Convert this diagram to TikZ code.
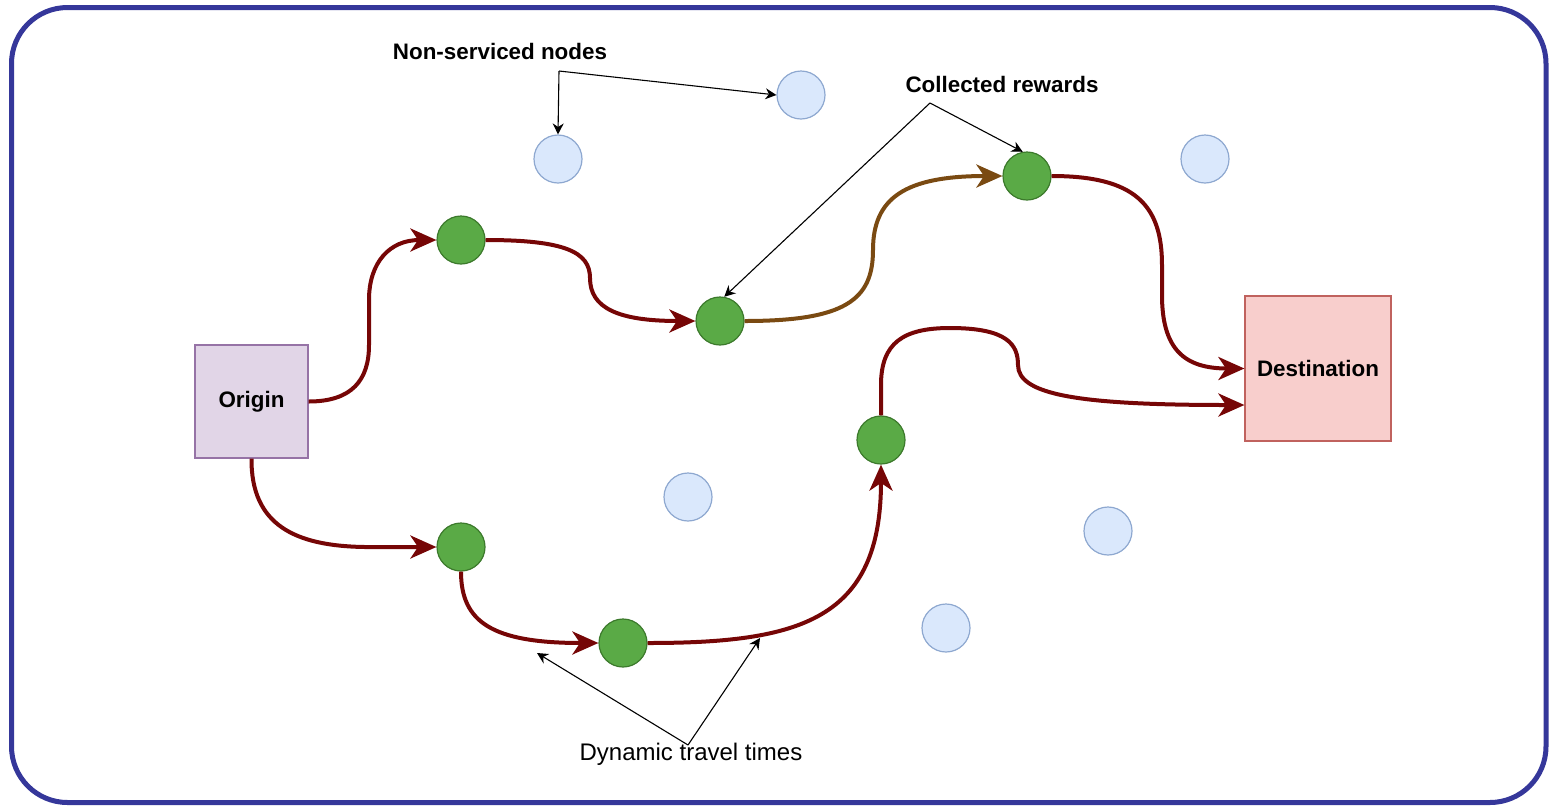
\documentclass[tikz,border=0pt]{standalone}
\usepackage{fontspec}
\setmainfont{Liberation Sans}
\usetikzlibrary{arrows.meta}
\definecolor{frameblue}{HTML}{35379A}
\definecolor{routered}{HTML}{760606}
\definecolor{routebrown}{HTML}{7A4A12}
\definecolor{greenfill}{HTML}{5AAA46}
\definecolor{greenline}{HTML}{3C7A2C}
\definecolor{bluefill}{HTML}{DAE8FC}
\definecolor{blueline}{HTML}{8EA8D0}
\definecolor{originfill}{HTML}{E1D5E7}
\definecolor{originline}{HTML}{9673A6}
\definecolor{destfill}{HTML}{F8CECC}
\definecolor{destline}{HTML}{C0625E}
\begin{document}
\begin{tikzpicture}[x=0.5pt,y=-0.5pt,
  visited/.style={circle, fill=greenfill, draw=greenline, line width=0.6pt, minimum size=24pt, inner sep=0pt},
  unvisited/.style={circle, fill=bluefill, draw=blueline, line width=0.6pt, minimum size=24pt, inner sep=0pt},
  boxnode/.style={rectangle, line width=0.6pt, inner sep=0pt, font=\fontsize{11.2}{13}\selectfont\bfseries},
  route/.style={draw=routered, line width=2pt, -{Stealth[length=13pt, width=11.5pt, inset=3.8pt]}},
  brownroute/.style={route, draw=routebrown},
  note/.style={draw=black, line width=0.55pt, -{Stealth[length=5.5pt, width=5.5pt]}},
  boldlabel/.style={font=\fontsize{11.2}{13}\selectfont\bfseries, inner sep=0pt},
  plainlabel/.style={font=\fontsize{12}{14}\selectfont, inner sep=0pt}
]
\useasboundingbox (0,0) rectangle (1549,805);
\draw[frameblue, line width=2.5pt, rounded corners=28pt] (11.5,7.5) rectangle (1546,802.5);

% boxes
\node[boxnode, fill=originfill, draw=originline, minimum width=56.5pt, minimum height=56.5pt] (O) at (251.5,401.5) {Origin};
\node[boxnode, fill=destfill, draw=destline, minimum width=73pt, minimum height=72.5pt] (D) at (1318,368.5) {Destination};

% serviced nodes
\node[visited] (G1) at (461,240) {};
\node[visited] (G2) at (720,321) {};
\node[visited] (G3) at (1027,176) {};
\node[visited] (G4) at (461,547) {};
\node[visited] (G5) at (623,643) {};
\node[visited] (G6) at (881,440) {};

% non-serviced nodes
\node[unvisited] (B1) at (558,159) {};
\node[unvisited] (B2) at (801,95) {};
\node[unvisited] (B3) at (1205,159) {};
\node[unvisited] (B4) at (688,497) {};
\node[unvisited] (B5) at (1108,531) {};
\node[unvisited] (B6) at (946,628) {};

% routes
\draw[route] (O.east) .. controls (352,401.5) and (369,380) .. (369,345) -- (369,300) .. controls (369,262) and (390,240) .. (G1.west);
\draw[route] (G1.east) .. controls (565,240) and (590,252) .. (590,278) .. controls (590,308) and (618,321) .. (G2.west);
\draw[brownroute] (G2.east) .. controls (845,321) and (873,300) .. (873,250) .. controls (873,198) and (905,176) .. (G3.west);
\draw[route] (G3.east) .. controls (1135,176) and (1162,205) .. (1162,265) -- (1162,295) .. controls (1162,350) and (1185,368.5) .. (D.west);
\draw[route] (O.south) .. controls (251,525) and (295,546) .. (365,547) -- (G4.west);
\draw[route] (G4.south) .. controls (461,622) and (492,643) .. (G5.west);
\draw[route] (G5.east) .. controls (800,643) and (881,620) .. (G6.south);
\draw[route] (G6.north) -- (881,385) .. controls (881,343) and (903,328) .. (950,328) .. controls (1008,328) and (1018,345) .. (1018,365) .. controls (1018,395) and (1080,405) .. (D.west |- 0,405);

% annotations
\node[boldlabel] (lblN) at (500,51) {Non-serviced nodes};
\node[boldlabel] (lblC) at (1002,84) {Collected rewards};
\node[plainlabel] (lblD) at (691,754) {Dynamic travel times};

\coordinate (jn) at (559,71);
\coordinate (jc) at (930,103);
\coordinate (jd) at (688,745);
\coordinate (t1) at (537,653);
\coordinate (t2) at (760,638);

\draw[note] (jn) -- (B1.north);
\draw[note] (jn) -- (B2.west);
\draw[note] (jc) -- (G3.100);
\draw[note] (jc) -- (G2.80);
\draw[note] (jd) -- (t1);
\draw[note] (jd) -- (t2);
\end{tikzpicture}
\end{document}
